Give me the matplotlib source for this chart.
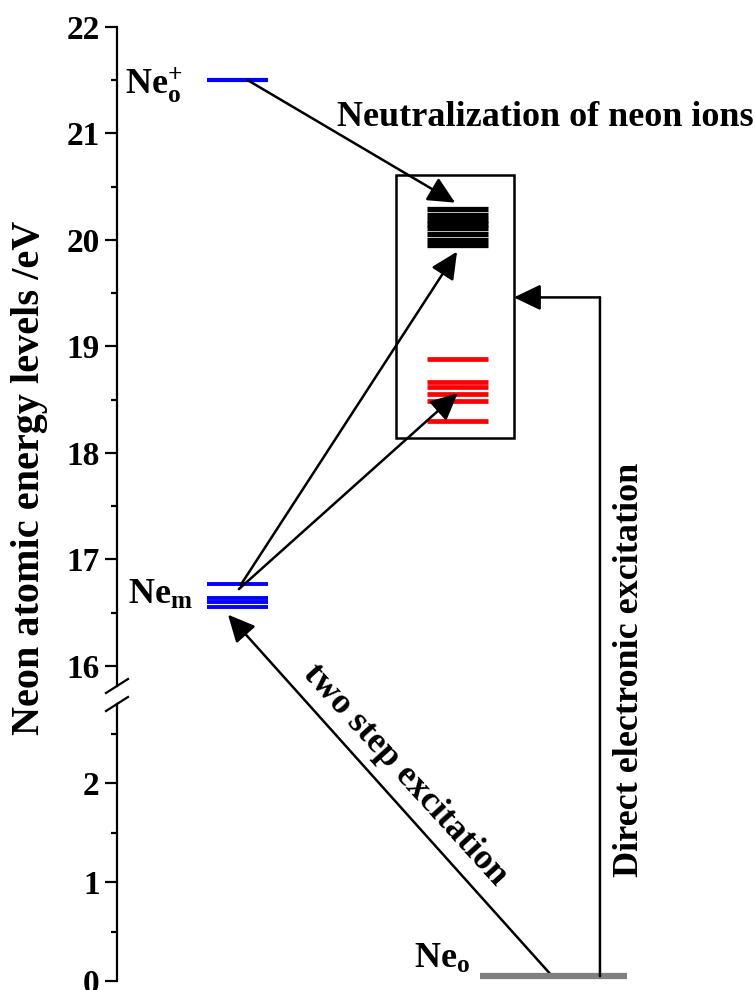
import matplotlib
matplotlib.use("Agg")
import matplotlib.pyplot as plt
from matplotlib.lines import Line2D
from matplotlib.patches import Rectangle, ConnectionPatch

plt.rcParams["font.family"] = ["Liberation Serif", "DejaVu Serif"]
plt.rcParams["font.weight"] = "bold"
plt.rcParams["mathtext.fontset"] = "custom"
plt.rcParams["mathtext.rm"] = "Liberation Serif:bold"
plt.rcParams["mathtext.bf"] = "Liberation Serif:bold"
plt.rcParams["mathtext.it"] = "Liberation Serif:bold"

# Energy levels (eV)
ion_level = [21.5]
metastable_levels = [16.77, 16.64, 16.60, 16.55]
upper_levels = [20.29, 20.23, 20.19, 20.15, 20.11, 20.06, 20.00, 19.95]
red_levels = [18.88, 18.67, 18.62, 18.555, 18.49, 18.30]
ground_level = [0.05]

upper_ticks = [16, 17, 18, 19, 20, 21, 22]
lower_ticks = [0, 1, 2]

BLUE = "#0000FF"
RED = "#FF0000"
GRAY = "#808080"
FS_TICK = 24
FS = 26

W, H = 755, 990
fig = plt.figure(figsize=(W / 100, H / 100), dpi=100)

def frac_x(px):
    return px / W

def frac_y(py):
    return 1 - py / H

left = frac_x(117)
width = frac_x(755) - left
ax_up = fig.add_axes([left, frac_y(686), width, frac_y(27) - frac_y(686)])
ax_lo = fig.add_axes([left, frac_y(981), width, frac_y(704) - frac_y(981)])

ax_up.set_ylim(15.81, 22)
ax_lo.set_ylim(0, 2.8)
for ax in (ax_up, ax_lo):
    ax.set_xlim(0, 10)
    ax.patch.set_alpha(0)
    for s in ("top", "right", "bottom"):
        ax.spines[s].set_visible(False)
    ax.spines["left"].set_linewidth(1.6)
    ax.set_xticks([])
    ax.tick_params(axis="y", which="major", length=8.5, width=1.6, pad=4)
    ax.tick_params(axis="y", which="minor", length=4.5, width=1.6)

ax_up.set_yticks(upper_ticks)
ax_up.set_yticks([16.5, 17.5, 18.5, 19.5, 20.5, 21.5], minor=True)
ax_lo.set_yticks(lower_ticks)
ax_lo.set_yticks([0.5, 1.5, 2.5], minor=True)
ax_up.set_yticklabels([str(t) for t in upper_ticks], fontweight="bold",
                      fontsize=FS_TICK)
ax_lo.set_yticklabels([str(t) for t in lower_ticks], fontweight="bold",
                      fontsize=FS_TICK)

# Axis break marks
for y0 in (693, 711):
    fig.add_artist(Line2D([frac_x(106), frac_x(128)],
                          [frac_y(y0), frac_y(y0 - 14)],
                          transform=fig.transFigure, color="black", lw=1.6))

# Levels
ax_up.hlines(ion_level, 1.41, 2.37, color=BLUE, lw=3)
ax_up.hlines(metastable_levels, 1.41, 2.37, color=BLUE, lw=2.8)
ax_up.hlines(upper_levels, 4.86, 5.81, color="black", lw=3.8)
ax_up.hlines(red_levels, 4.86, 5.81, color=RED, lw=3.4)
ax_lo.hlines(ground_level, 5.69, 7.99, color=GRAY, lw=4.5)

# Box around the neutralization levels
ax_up.add_patch(Rectangle((4.37, 18.14), 6.22 - 4.37, 20.61 - 18.14,
                          fill=False, ec="black", lw=1.8))

arrow_kw = dict(arrowstyle="-|>,head_length=0.75,head_width=0.36",
                mutation_scale=22, lw=1.8, color="black",
                shrinkA=0, shrinkB=0)

# Ion -> upper levels
ax_up.annotate("", xy=(5.30, 20.35), xytext=(2.05, 21.5), arrowprops=arrow_kw)
# Metastable -> upper levels
ax_up.annotate("", xy=(5.33, 19.89), xytext=(1.94, 16.76), arrowprops=arrow_kw)
# Metastable -> red levels
ax_up.annotate("", xy=(5.34, 18.56), xytext=(1.91, 16.72), arrowprops=arrow_kw)
# Ground -> metastable (two step excitation)
ax_up.annotate("", xy=(1.74, 16.48), xycoords=ax_up.transData,
               xytext=(6.82, ground_level[0]), textcoords=ax_lo.transData,
               arrowprops=arrow_kw)
# Direct electronic excitation path
fig.add_artist(ConnectionPatch(xyA=(7.57, ground_level[0]), coordsA=ax_lo.transData,
                               xyB=(7.57, 19.46), coordsB=ax_up.transData,
                               color="black", lw=1.8))
ax_up.annotate("", xy=(6.22, 19.46), xytext=(7.57, 19.46), arrowprops=arrow_kw)

# Labels
ax_up.text(1.02, 21.45, r"$\mathrm{Ne}_\mathrm{o}^{+}$", ha="right", va="center",
           fontsize=FS)
ax_up.text(1.19, 16.66, r"$\mathrm{Ne}_\mathrm{m}$", ha="right", va="center",
           fontsize=FS)
ax_lo.text(5.53, 0.22, r"$\mathrm{Ne}_\mathrm{o}$", ha="right", va="center",
           fontsize=FS)
ax_up.text(6.71, 21.15, "Neutralization of neon ions", ha="center", va="center",
           fontsize=FS, fontweight="bold", clip_on=False)

fig.text(frac_x(405), frac_y(775), "two step excitation", rotation=-47.6,
         ha="center", va="center", fontsize=FS, fontweight="bold",
         rotation_mode="anchor")
fig.text(frac_x(630), frac_y(670), "Direct electronic excitation", rotation=90,
         ha="center", va="center", fontsize=FS, fontweight="bold")
fig.text(frac_x(30), frac_y(478), "Neon atomic energy levels /eV", rotation=90,
         ha="center", va="center", fontsize=29, fontweight="bold")

fig.savefig("out.png", dpi=100)
